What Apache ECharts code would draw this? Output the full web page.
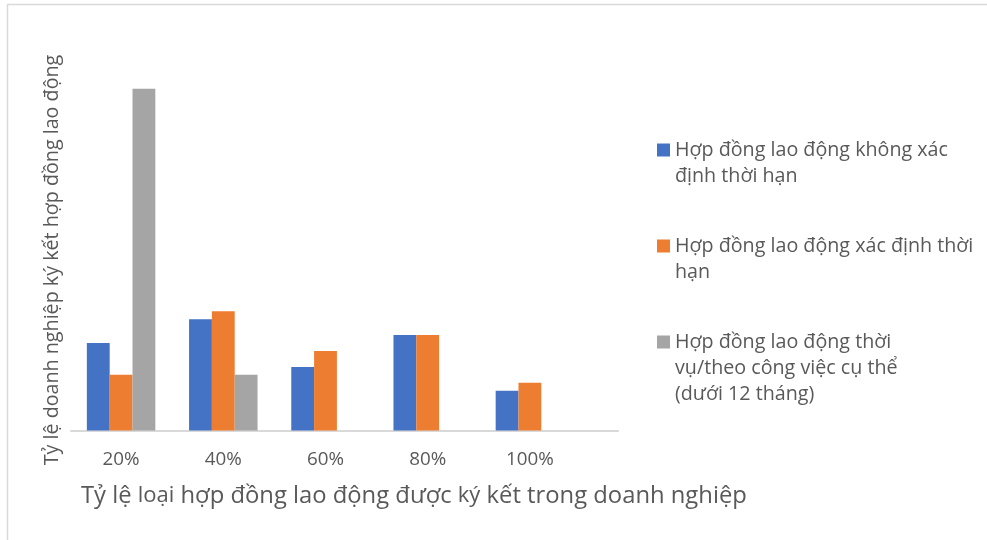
<!DOCTYPE html>
<html>
<head>
<meta charset="utf-8">
<script src="https://cdn.jsdelivr.net/npm/echarts@6/dist/echarts.min.js"></script>
<style>
  html, body { margin: 0; padding: 0; background: #fff; }
  #chart { width: 987px; height: 540px; }
</style>
</head>
<body>
<div id="chart"></div>
<script>
const categories = ['20%', '40%', '60%', '80%', '100%'];
const seriesNames = [
  'Hợp đồng lao động không xác định thời hạn',
  'Hợp đồng lao động xác định thời hạn',
  'Hợp đồng lao động thời vụ/theo công việc cụ thể (dưới 12 tháng)'
];
const legendLines = [
  ['Hợp đồng lao động không xác', 'định thời hạn'],
  ['Hợp đồng lao động xác định thời', 'hạn'],
  ['Hợp đồng lao động thời', 'vụ/theo công việc cụ thể', '(dưới 12 tháng)']
];
const indefinite = [11, 14, 8, 12, 5];
const definite = [7, 15, 10, 12, 6];
const seasonal = [43, 7, 0, 0, 0];
const colors = ['#4472C4', '#ED7D31', '#A5A5A5'];

const font = '"Open Sans", "Liberation Sans", Arial, sans-serif';
const textColor = '#595959';
const lineH = 26;
const legendTops = [111, 207, 277];

const chart = echarts.init(document.getElementById('chart'));

// empty lines before the text keep the icon level with the first line
const legends = seriesNames.map((name, i) => ({
  data: [name],
  orient: 'vertical',
  left: 657,
  top: legendTops[i],
  padding: 0,
  itemWidth: 13,
  itemHeight: 13,
  icon: 'rect',
  formatter: () => '\n'.repeat(legendLines[i].length - 1) + legendLines[i].join('\n'),
  textStyle: {
    fontFamily: font,
    fontSize: 19.7,
    lineHeight: lineH,
    color: textColor
  }
}));

chart.setOption({
  animation: false,
  color: colors,
  textStyle: { fontFamily: font },
  title: {
    text: 'Tỷ lệ {s|loại} hợp đồng lao động được {s|ký} kết trong doanh nghiệp',
    left: 76,
    top: 479,
    textStyle: {
      fontFamily: font,
      fontSize: 23.8,
      fontWeight: 'normal',
      color: textColor,
      rich: {
        s: { fontFamily: font, fontSize: 22, color: textColor }
      }
    }
  },
  legend: legends,
  graphic: [{
    type: 'rect',
    silent: true,
    shape: { x: 7.5, y: 4.5, width: 1200, height: 800 },
    style: { fill: 'none', stroke: '#d9d9d9', lineWidth: 1.5 }
  }],
  grid: [
    { left: 70, right: 406, top: 33, bottom: 109.5 },
    { left: 71, right: 369, top: 89.5, bottom: 109.5 }
  ],
  xAxis: [
    {
      type: 'category',
      gridIndex: 0,
      data: categories,
      axisLine: { show: false },
      axisTick: { show: false },
      axisLabel: { fontSize: 18.8, color: textColor, margin: 20, fontFamily: font }
    },
    {
      type: 'value',
      gridIndex: 1,
      min: 0,
      max: 1,
      axisLine: { show: true, lineStyle: { color: '#d9d9d9', width: 2 } },
      axisTick: { show: false },
      axisLabel: { show: false },
      splitLine: { show: false }
    }
  ],
  yAxis: [
    {
      type: 'value',
      gridIndex: 0,
      min: 0,
      max: 50,
      axisLine: { show: false },
      axisTick: { show: false },
      axisLabel: { show: false },
      splitLine: { show: false }
    },
    {
      type: 'value',
      gridIndex: 1,
      min: 0,
      max: 1,
      name: 'Tỷ lệ doanh nghiệp ký kết hợp đồng lao động',
      nameLocation: 'middle',
      nameGap: 9,
      nameTextStyle: { fontFamily: font, fontSize: 19.7, color: textColor },
      axisLine: { show: false },
      axisTick: { show: false },
      axisLabel: { show: false },
      splitLine: { show: false }
    }
  ],
  series: [indefinite, definite, seasonal].map((values, i) => ({
    name: seriesNames[i],
    type: 'bar',
    xAxisIndex: 0,
    yAxisIndex: 0,
    data: values,
    barGap: '0%',
    barCategoryGap: '33%',
    itemStyle: { color: colors[i] }
  }))
});
</script>
</body>
</html>
